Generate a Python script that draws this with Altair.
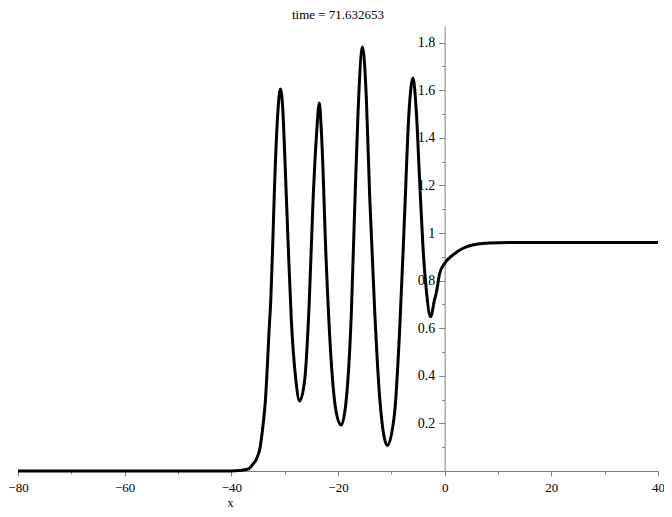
import altair as alt
import pandas as pd

# Curve values
xs = [-80, -60, -45, -40, -38.5, -37.5, -36.6, -35.9, -35.3, -34.6, -34.1, -33.6, -33.25,
      -32.95, -32.6, -32.2, -31.9, -31.3, -30.8, -30.3, -30.0, -29.4, -28.75, -27.9, -27.2,
      -26.25, -25.4, -24.7, -24.05, -23.5, -23.1, -22.2, -21.25, -20.3, -19.4, -18.4, -17.5,
      -16.9, -16.25, -15.4, -14.7, -14.06, -13.1, -12.2, -10.75, -9.4, -8.44, -7.5,
      -6.7, -5.94, -5.3, -4.7, -4.07, -3.44, -2.65, -1.9, -1.56, -0.94, 0, 1.56, 3.44,
      5.94, 8.44, 14, 40]
ys = [0, 0, 0, 0.0, 0.002, 0.005, 0.012, 0.03, 0.05, 0.10, 0.185, 0.30, 0.44,
      0.58, 0.72, 0.98, 1.195, 1.50, 1.605, 1.50, 1.337, 0.985, 0.634, 0.382, 0.294,
      0.382, 0.705, 1.125, 1.405, 1.546, 1.42, 0.873, 0.453, 0.243, 0.193, 0.312, 0.663,
      1.083, 1.504, 1.782, 1.574, 1.153, 0.663, 0.312, 0.107, 0.242, 0.592, 1.083,
      1.504, 1.651, 1.504, 1.223, 0.943, 0.761, 0.648, 0.72, 0.75, 0.83, 0.873, 0.908, 0.936,
      0.953, 0.958, 0.96, 0.96]

x_ticks = [-80, -70, -60, -50, -40, -30, -20, -10, 0, 10, 20, 30, 40]
y_ticks = [0.1, 0.2, 0.3, 0.4, 0.5, 0.6, 0.7, 0.8, 0.9, 1.0,
           1.1, 1.2, 1.3, 1.4, 1.5, 1.6, 1.7, 1.8]
title_text = "time = 71.632653"

W, H = 640, 445
FONT = "Liberation Serif"

df = pd.DataFrame({"x": xs, "y": ys})

chart = alt.Chart(df).mark_line(
    color="black", strokeWidth=3, interpolate="monotone"
).encode(
    x=alt.X("x:Q",
            scale=alt.Scale(domain=[-80, 40], nice=False, zero=False),
            axis=alt.Axis(values=x_ticks,
                          labelExpr="datum.value % 20 == 0 ? datum.label : ''",
                          title="x", titleX=212, titleY=26, titleFont=FONT,
                          titleFontSize=12, titleFontWeight="normal",
                          titleColor="black",
                          tickSize={"condition": {"test": "datum.value % 20 == 0", "value": 5}, "value": 3},
                          labelPadding=5, labelFlush=False,
                          labelFont=FONT, labelFontSize=13, labelColor="black",
                          domainColor="#808080", tickColor="#808080")),
    y=alt.Y("y:Q",
            scale=alt.Scale(domain=[0, 1.87], nice=False),
            axis=alt.Axis(values=y_ticks, offset=-W * 80 / 120,
                          labelExpr="round(datum.value*10) % 2 == 0 ? format(datum.value, '~g') : ''",
                          title=None,
                          tickSize={"condition": {"test": "round(datum.value*10) % 2 == 0", "value": 6}, "value": 3},
                          labelPadding=4,
                          labelFont=FONT, labelFontSize=14, labelColor="black",
                          domainColor="#808080", tickColor="#808080")),
).properties(
    width=W, height=H,
    title=alt.TitleParams(title_text, font=FONT, fontSize=13, fontWeight="normal",
                          color="black", offset=4),
    autosize=alt.AutoSizeParams(type="none"),
    padding={"left": 10, "top": 18, "right": 6, "bottom": 38},
).configure_view(stroke=None).configure_axis(grid=False)

chart.save("out.html", embed_options={"renderer": "svg", "actions": False})
